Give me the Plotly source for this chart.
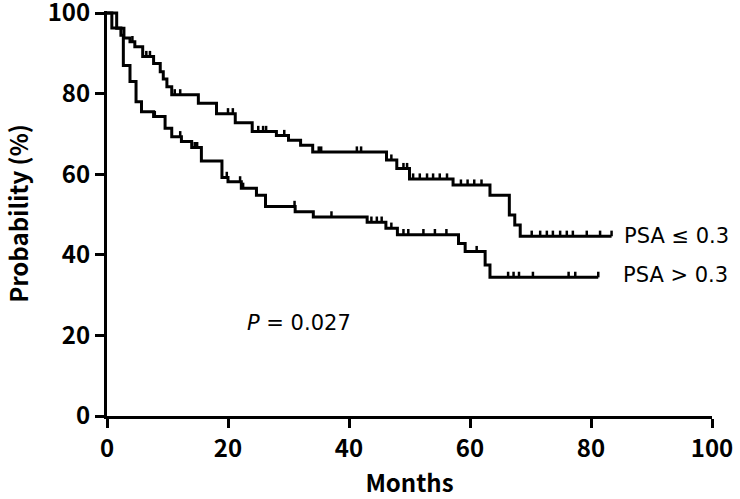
import numpy as np
import plotly.graph_objects as go

# Kaplan-Meier steps (months, survival %)
up_t = [0, 1.6, 2.8, 3.8, 4.6, 5.9, 7.7, 8.8, 9.3, 9.9, 10.7, 15.1, 18.1, 21.2, 24.0,
        28.0, 30.0, 32.0, 34.0, 46.2, 47.9, 50.0, 57.2, 63.3, 66.5, 67.4, 68.3]
up_s = [100, 96.2, 93.8, 92.9, 91.6, 89.2, 87.5, 85.4, 83.6, 81.7, 79.7, 77.6, 75.0, 72.8, 70.6,
        69.6, 68.4, 67.2, 65.5, 63.5, 61.4, 58.8, 57.3, 54.8, 49.9, 47.4, 44.6]
up_end = 83.4
up_cens = [4.2, 6.5, 7.1, 11.2, 12.1, 20.0, 20.8, 25.0, 25.8, 26.3, 29.3, 35.0, 35.4, 41.3, 42.0,
           47.0, 49.0, 49.6, 50.6, 51.7, 52.9, 53.9, 55.0, 56.2, 58.5, 59.6, 60.7, 61.9,
           70.2, 71.6, 72.7, 73.7, 74.9, 76.0, 77.0, 79.3, 81.5, 83.4]

lo_t = [0, 0.8, 2.3, 2.7, 3.8, 4.8, 5.7, 7.7, 9.6, 10.7, 12.3, 14.0, 15.6, 19.0, 20.0,
        22.2, 24.7, 26.2, 31.1, 34.1, 43.0, 46.1, 48.0, 58.1, 59.2, 62.5, 63.3]
lo_s = [100, 96.3, 94.5, 87.0, 83.0, 78.0, 75.5, 74.3, 71.4, 69.3, 68.1, 66.6, 63.3, 59.2, 58.1,
        56.5, 54.8, 52.0, 50.7, 49.4, 48.1, 46.6, 45.0, 42.8, 40.8, 37.5, 34.4]
lo_end = 81.2
lo_cens = [7.9, 12.1, 14.5, 14.9, 19.8, 22.0, 22.5, 24.7, 31.0, 37.1, 43.7, 44.6, 45.4, 47.0,
           49.0, 49.8, 52.3, 54.2, 56.1, 61.1, 66.3, 67.2, 68.1, 70.4, 76.3, 77.4, 81.2]

labels = ["PSA ≤ 0.3", "PSA > 0.3"]
p_text = "<i>P</i> = 0.027"

TICK_H = 1.4  # censor mark height, in %
FONT = "Noto Sans CJK JP"
TXT_FONT = "DejaVu Sans"


def steps(t, s, end):
    return list(t) + [end], list(s) + [s[-1]]


def censor_marks(t, s, cens):
    xs, ys = [], []
    for c in cens:
        lvl = s[np.searchsorted(t, c, side="right") - 1]
        xs += [c, c, None]
        ys += [lvl, lvl + TICK_H, None]
    return xs, ys


fig = go.Figure()
for t, s, end, cens in [(up_t, up_s, up_end, up_cens), (lo_t, lo_s, lo_end, lo_cens)]:
    x, y = steps(t, s, end)
    fig.add_trace(go.Scatter(x=x, y=y, mode="lines", line=dict(color="black", width=3, shape="hv"),
                             showlegend=False, hoverinfo="skip"))
    cx, cy = censor_marks(t, s, cens)
    fig.add_trace(go.Scatter(x=cx, y=cy, mode="lines", line=dict(color="black", width=2.5),
                             showlegend=False, hoverinfo="skip"))

fig.add_annotation(x=up_end + 1.8, y=up_s[-1], text=labels[0], showarrow=False, xanchor="left",
                   font=dict(family=TXT_FONT, size=21, color="black"))
fig.add_annotation(x=lo_end + 3.8, y=lo_s[-1] + 0.5, text=labels[1], showarrow=False, xanchor="left",
                   font=dict(family=TXT_FONT, size=21, color="black"))
fig.add_annotation(x=22.8, y=23, text=p_text, showarrow=False, xanchor="left",
                   font=dict(family=TXT_FONT, size=21, color="black"))

axis_common = dict(
    showline=True, linecolor="black", linewidth=3, ticks="outside", ticklen=9, tickwidth=3,
    tickcolor="black", showgrid=False, zeroline=False, automargin=False,
    ticklabeloverflow="allow",
    tickfont=dict(family=FONT, size=24, color="black", weight="bold"),
)
title_font = dict(family=FONT, size=24, color="black", weight="bold")
fig.update_layout(
    width=740, height=499,
    paper_bgcolor="white", plot_bgcolor="white",
    margin=dict(l=107, r=28, t=11, b=83),
    xaxis=dict(range=[0, 100], tickvals=[0, 20, 40, 60, 80, 100],
               title=dict(text="Months", standoff=21, font=title_font),
               **axis_common),
    yaxis=dict(range=[0, 100.5], tickvals=[0, 20, 40, 60, 80, 100],
               title=dict(text="Probability (%)", standoff=27, font=title_font),
               **axis_common),
)

# drop the default 8px body margin so the figure sits at the page corner
fig.write_html("out.html", config={"displayModeBar": False},
               post_script="document.body.style.margin='0';")
